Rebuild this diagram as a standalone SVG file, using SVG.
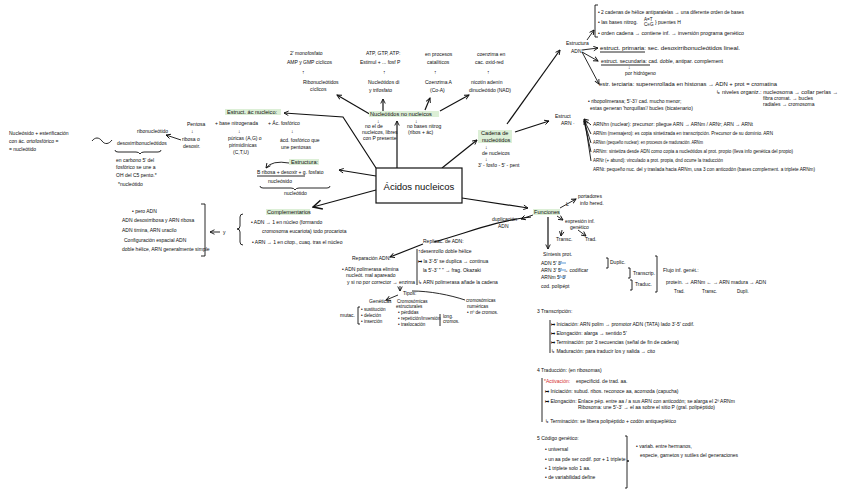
<svg xmlns="http://www.w3.org/2000/svg" width="848" height="494" viewBox="0 0 848 494">
<defs>
<style>
.t{font-family:"Liberation Sans",Arial,sans-serif;font-size:5px;fill:#0d0d0d}
.s{font-size:4.6px}
.hd{font-size:5.6px}
.hl{fill:#dcefd6}
.c{stroke:#111;stroke-width:1.2;fill:none}
.b{stroke:#111;stroke-width:0.9;fill:none}
.red{fill:#d42a2a}
.blu{stroke:#5a9bd8;stroke-width:1}
</style>
<marker id="a" viewBox="0 0 8 8" refX="7" refY="4" markerWidth="6" markerHeight="6" orient="auto" markerUnits="userSpaceOnUse"><path d="M1,1 L7,4 L1,7" fill="none" stroke="#111" stroke-width="1.2"/></marker>
<marker id="A" viewBox="0 0 8 8" refX="7" refY="4" markerWidth="12" markerHeight="12" orient="auto" markerUnits="userSpaceOnUse"><path d="M1,1 L7,4 L1,7" fill="none" stroke="#111" stroke-width="1"/></marker>
</defs>
<rect width="848" height="494" fill="#ffffff"/>

<g id="connectors">
<polyline class="c" points="376,168 343,117 284,113" marker-end="url(#a)"/>
<line class="c" x1="397" y1="168" x2="397" y2="121" marker-end="url(#a)"/>
<line class="c" x1="376" y1="176" x2="339" y2="170" marker-end="url(#a)"/>
<line class="c" x1="376" y1="190" x2="313" y2="207" marker-end="url(#A)"/>
<line class="c" x1="442" y1="168" x2="477" y2="140" marker-end="url(#a)"/>
<line class="c" x1="462" y1="198" x2="528" y2="208" marker-end="url(#a)"/>
<line class="c" x1="373" y1="116" x2="337" y2="95" marker-end="url(#a)"/>
<line class="c" x1="383" y1="112" x2="383" y2="99" marker-end="url(#a)"/>
<line class="c" x1="425" y1="110" x2="430" y2="98" marker-end="url(#a)"/>
<line class="c" x1="440" y1="111" x2="469" y2="95" marker-end="url(#a)"/>
<line class="c" x1="507" y1="124" x2="560" y2="50" marker-end="url(#a)"/>
<line class="c" x1="515" y1="132" x2="549" y2="121" marker-end="url(#a)"/>
<line class="b" x1="587" y1="40" x2="594" y2="30" marker-end="url(#a)"/>
<line class="b" x1="582" y1="50" x2="598" y2="48" marker-end="url(#a)"/>
<line class="b" x1="582" y1="52" x2="598" y2="61" marker-end="url(#a)"/>
<line class="b" x1="582" y1="52" x2="599" y2="84" marker-end="url(#a)"/>
<line class="b" x1="591" y1="125" x2="584" y2="119" marker-end="url(#a)"/>
<line class="b" x1="591" y1="134" x2="584" y2="120" marker-end="url(#a)"/>
<line class="b" x1="591" y1="143" x2="584" y2="121"/>
<line class="b" x1="591" y1="152" x2="584" y2="121"/>
<line class="b" x1="591" y1="161" x2="585" y2="122"/>
<line class="b" x1="560" y1="208" x2="576" y2="199" marker-end="url(#a)"/>
<line class="b" x1="533" y1="215" x2="521" y2="219" marker-end="url(#a)"/>
<line class="b" x1="557" y1="216" x2="563" y2="220" marker-end="url(#a)"/>
<line class="b" x1="562" y1="230" x2="561" y2="236" marker-end="url(#a)"/>
<line class="b" x1="578" y1="230" x2="586" y2="236" marker-end="url(#a)"/>
<line class="c" x1="548" y1="217" x2="548" y2="249" marker-end="url(#a)"/>
<path class="c" d="M531,217 C495,221 470,232 434,242"/>
<line class="c" x1="423" y1="244" x2="390" y2="257" marker-end="url(#a)"/>
<line class="b" x1="400" y1="286" x2="400" y2="291" marker-end="url(#a)"/>
<line class="b" x1="398" y1="295" x2="386" y2="300" marker-end="url(#a)"/>
<path class="b" d="M412,291 C430,291 450,295 465,300"/>
<path class="b" d="M92,141 c3,-4 7,-4 10,0 s7,3 10,-1"/>
<line class="b" x1="181" y1="140" x2="166" y2="135" marker-end="url(#a)"/>
<line class="b" x1="220" y1="232" x2="210" y2="232" marker-end="url(#a)"/>
<path class="b" d="M289,163 Q272,160 266,168" marker-end="url(#a)"/>
</g>

<g id="central">
<rect x="376" y="168" width="86" height="35" fill="#ffffff" stroke="#111" stroke-width="1.2"/>
<text class="t" x="419" y="190" text-anchor="middle" style="font-size:9.5px">Ácidos nucleicos</text>
</g>

<g id="nucleosido">
<text class="t" x="9" y="135">Nucleósido + esterificación</text>
<text class="t" x="9" y="143">con ác. ortofosfórico =</text>
<text class="t" x="9" y="151">= nucleótido</text>
</g>

<g id="ribonucleotido">
<text class="t" x="137" y="133">ribonucleótido</text>
<text class="t" x="117" y="145">desoxirribonucleótidos</text>
<path class="b" d="M115,150 q0,2 3,2 h18 q3,0 4,2 q1,-2 4,-2 h14 q3,0 3,-2"/>
<text class="t" x="116" y="162">en carbono 5' del</text>
<text class="t" x="116" y="169">fosfórico se une a</text>
<text class="t" x="116" y="177">OH del C5 pento.*</text>
<text class="t" x="118" y="186">*nucleótido</text>
</g>

<g id="pentosa">
<text class="t" x="187" y="126">Pentosa</text>
<text class="t" x="191" y="133">↓</text>
<text class="t" x="182" y="141">ribosa o</text>
<text class="t" x="183" y="148">desoxir.</text>
</g>

<g id="componentes">
<text class="t" x="215" y="125">+ base nitrogenada</text>
<text class="t" x="268" y="125">+ Ác. fosfórico</text>
<text class="t" x="238" y="133">↓</text>
<text class="t" x="228" y="140">púricas (A,G) o</text>
<text class="t" x="229" y="147">pirimidínicas</text>
<text class="t" x="233" y="154">(C,T,U)</text>
<text class="t" x="291" y="133">↓</text>
<text class="t" x="280" y="142">ácd. fosfórico que</text>
<text class="t" x="281" y="149">une pentosas</text>
</g>

<g id="estruct-acido">
<rect class="hl" x="225" y="109" width="56" height="6"/>
<text class="t hd" x="227" y="114">Estruct. ác nucleico:</text>
</g>

<g id="estructura">
<rect class="hl" x="289" y="159" width="30" height="6"/>
<text class="t hd" x="291" y="164">Estructura:</text>
<text class="t" x="257" y="174">B ribosa + desoxir + g. fosfato</text>
<line class="b" x1="257" y1="176" x2="305" y2="176"/>
<text class="t" x="268" y="183">nucleósido</text>
<path class="b" d="M260,186 q0,2 3,2 h28 q3,0 4,2 q1,-2 4,-2 h28 q3,0 3,-2"/>
<text class="t" x="284" y="195">nucleótido</text>
</g>

<g id="cicl">
<text class="t" x="290" y="55">2' monofosfato</text>
<text class="t" x="287" y="64">AMP y GMP cíclicos</text>
<text class="t" x="302" y="74">↑</text>
<text class="t" x="303" y="84">Ribonucleótidos</text>
<text class="t" x="310" y="91">cíclicos</text>
</g>

<g id="ditri">
<text class="t" x="366" y="55">ATP, GTP, ATP:</text>
<text class="t" x="360" y="64">Estimul + ... fosf P</text>
<text class="t" x="383" y="74">↑</text>
<text class="t" x="368" y="84">Nucleótidos di</text>
<text class="t" x="369" y="92">y trifosfato</text>
</g>

<g id="no-nucleicos">
<rect class="hl" x="369" y="111" width="70" height="6"/>
<text class="t hd" x="370" y="116">Nucleótidos no nucleicos</text>
<text class="t" x="377" y="123">↓</text>
<text class="t" x="365" y="128">no el de</text>
<text class="t" x="362" y="134">nucleicos, libres</text>
<text class="t" x="363" y="140">con P presente</text>
<text class="t" x="415" y="123">↓</text>
<text class="t" x="407" y="128">no bases nitrog</text>
<text class="t" x="408" y="134">(ribos + ác)</text>
</g>

<g id="coenzima">
<text class="t" x="425" y="56">en procesos</text>
<text class="t" x="427" y="64">catalíticos</text>
<text class="t" x="434" y="74">↑</text>
<text class="t" x="425" y="84">Coenzima A</text>
<text class="t" x="430" y="92">(Co-A)</text>
</g>

<g id="nad">
<text class="t" x="477" y="56">coenzima en</text>
<text class="t" x="475" y="64">cac. oxid-red</text>
<text class="t" x="487" y="74">↑</text>
<text class="t" x="471" y="84">nicotín adenín</text>
<text class="t" x="469" y="92">dinucleótido (NAD)</text>
</g>

<g id="cadena">
<rect class="hl" x="478" y="130" width="34" height="13"/>
<text class="t hd" x="481" y="135">Cadena de</text>
<text class="t hd" x="482" y="142">nucleótidos</text>
<text class="t" x="485" y="149">↓</text>
<text class="t" x="482" y="155">de nucleicos</text>
<text class="t" x="485" y="161">↓</text>
<text class="t" x="478" y="167">3' - fosfo - 5' - pent</text>
</g>

<g id="adn">
<text class="t" x="566" y="45">Estructura</text>
<text class="t" x="571" y="53">ADN :</text>
<path class="b" d="M598,5 h-3 v32 h3"/>
<text class="t" x="598" y="14" textLength="146" lengthAdjust="spacingAndGlyphs">• 2 cadenas de hélice antiparalelas → una diferente orden de bases</text>
<text class="t" x="598" y="24">• las bases nitrog.</text>
<text class="t s" x="644" y="21">A=T</text>
<text class="t s" x="644" y="26">C≡G</text>
<text class="t" x="655" y="24">} puentes H</text>
<text class="t" x="598" y="35" textLength="146" lengthAdjust="spacingAndGlyphs">• orden cadena → contiene inf. → inversión programa genético</text>
<text class="t" x="600" y="50" textLength="140" lengthAdjust="spacingAndGlyphs">estruct. primaria: sec. desoxirribonucleótidos lineal.</text>
<line class="b" x1="600" y1="52" x2="645" y2="52"/>
<text class="t" x="601" y="63" textLength="122" lengthAdjust="spacingAndGlyphs">estruct. secundaria: cad. doble, antipar. complement</text>
<line class="b" x1="601" y1="65" x2="650" y2="65"/>
<text class="t" x="628" y="69">↓</text>
<text class="t" x="625" y="75">por hidrógeno</text>
<text class="t" x="599" y="86" textLength="178" lengthAdjust="spacingAndGlyphs">estr. terciaria: superenrollada en histonas → ADN + prot = cromatina</text>
<text class="t" x="716" y="94" textLength="122" lengthAdjust="spacingAndGlyphs">↳ niveles organiz.: nucleosoma → collar perlas →</text>
<text class="t" x="763" y="100">fibra cromat. → bucles</text>
<text class="t" x="763" y="106">radiales → cromosoma</text>
</g>

<g id="arn">
<text class="t" x="588" y="103">• ribopolimerasa; 5'-3'/ cad. mucho menor;</text>
<text class="t" x="590" y="110">estas generan 'horquillas'/ bucles (bicatenario)</text>
<text class="t" x="555" y="118">Estruct</text>
<text class="t" x="561" y="125">ARN ·</text>
<text class="t" x="593" y="126" textLength="160" lengthAdjust="spacingAndGlyphs">ARNhn (nuclear): precursor: pliegue ARN → ARNm / ARNr; ARN → ARNt</text>
<text class="t" x="593" y="135" textLength="180" lengthAdjust="spacingAndGlyphs">ARNm (mensajero): es copia sintetizada en transcripción. Precursor de su dominio. ARN</text>
<text class="t" x="593" y="144" textLength="110" lengthAdjust="spacingAndGlyphs">ARNsn (pequeño nuclear): en procesos de maduración. ARNm</text>
<text class="t" x="593" y="153" textLength="200" lengthAdjust="spacingAndGlyphs">ARNm: sintetiza desde ADN como copia a nucleótidos al prot. propio (lleva info genética del propio)</text>
<text class="t" x="593" y="162" textLength="130" lengthAdjust="spacingAndGlyphs">ARNr (+ abund): vinculado a prot. propia, dnd ocurre la traducción</text>
<text class="t" x="593" y="171" textLength="222" lengthAdjust="spacingAndGlyphs">ARNt: pequeño nuc. del y traslada hacia ARNm, usa 3 con anticodón (bases complement. a triplete ARNm)</text>
</g>

<g id="pero-dna">
<text class="t" x="132" y="213">• pero ADN</text>
<text class="t" x="122" y="222">ADN desoxirribosa y ARN ribosa</text>
<text class="t" x="122" y="232">ADN timina, ARN uracilo</text>
<text class="t" x="124" y="242">Configuración espacial ADN</text>
<text class="t" x="122" y="251">doble hélice, ARN generalmente simple</text>
<path class="b" d="M201,204 h4 v52 h-4"/>
<text class="t" x="223" y="234">y</text>
</g>

<g id="complementarios">
<rect class="hl" x="266" y="209" width="44" height="6"/>
<text class="t hd" x="267" y="214">Complementarios</text>
<path class="b" d="M243,214 q-3,0 -3,3 v9 q0,3 -3,3 q3,0 3,3 v10 q0,3 3,3"/>
<text class="t" x="251" y="224">• ADN → 1 en núcleo (formando</text>
<text class="t" x="262" y="233">cromosoma eucariota) todo procariota</text>
<text class="t" x="252" y="244">• ARN → 1 en citop., cuaq. tras el núcleo</text>
</g>

<g id="funciones">
<rect class="hl" x="533" y="209" width="27" height="6"/>
<text class="t hd" x="534" y="214">Funciones</text>
<text class="t" x="566" y="206">L</text>
<text class="t" x="578" y="198">portadores</text>
<text class="t" x="580" y="205">info hered.</text>
<text class="t" x="492" y="221">duplicación</text>
<text class="t" x="498" y="228">ADN</text>
<text class="t" x="565" y="223">expresión inf.</text>
<text class="t" x="570" y="229">genético</text>
<text class="t" x="556" y="241">Transc.</text>
<text class="t" x="585" y="241">Trad.</text>
</g>

<g id="replicacion">
<text class="t" x="423" y="243">Replicac. de ADN:</text>
<path class="b" d="M417,249 v36"/>
<text class="t" x="418" y="253">↑desenrollo doble hélice</text>
<text class="t" x="418" y="263">↦ la 3'-5' se duplica → continua</text>
<text class="t" x="423" y="272">la 5'-3'   "      "   → frag. Okazaki</text>
<text class="t" x="418" y="284">↳ ARN polimerasa añade la cadena</text>
</g>

<g id="reparacion">
<text class="t" x="352" y="260">Reparación ADN:</text>
<text class="t" x="342" y="271">• ADN polimerasa elimina</text>
<text class="t" x="346" y="277">nucleót. mal apareado</text>
<text class="t" x="347" y="284">y si no por corrector → enzima</text>
<text class="t" x="403" y="295">Tipos:</text>
<text class="t" x="369" y="303">Genéticas</text>
<text class="t" x="340" y="317">mutac.</text>
<path class="b" d="M360,307 h-2 v17 h2"/>
<text class="t s" x="361" y="311">• sustitución</text>
<text class="t s" x="361" y="317">• deleción</text>
<text class="t s" x="361" y="323">• inserción</text>
<text class="t s" x="397" y="303">Cromosómicas</text>
<text class="t s" x="396" y="308">estructurales</text>
<text class="t s" x="398" y="314">• pérdidas</text>
<text class="t s" x="398" y="320">• repetición/inversión</text>
<text class="t s" x="398" y="326">• traslocación</text>
<path class="b" d="M440,314 v12"/>
<text class="t s" x="443" y="318">long.</text>
<text class="t s" x="443" y="323">cromos.</text>
<text class="t s" x="466" y="302">cromosómicas</text>
<text class="t s" x="467" y="308">numéricas</text>
<text class="t s" x="467" y="314">• nº de cromos.</text>
</g>

<g id="sintesis">
<text class="t" x="543" y="256">Síntesis prot.</text>
<text class="t" x="541" y="265">ADN   5'        3'</text>
<line class="blu" x1="558" y1="263" x2="566" y2="263"/>
<text class="t" x="541" y="272">ARN   3'        5'   → codificar</text>
<line class="blu" x1="558" y1="270" x2="566" y2="270"/>
<text class="t" x="541" y="279">ARNm 5'        3'</text>
<line class="blu" x1="558" y1="277" x2="566" y2="277"/>
<text class="t" x="541" y="288">cod. polipépt</text>
<path class="b" d="M606,258 h2 v10 h-2"/>
<text class="t" x="610" y="264">Duplic.</text>
<path class="b" d="M628,268 h2 v10 h-2"/>
<text class="t" x="633" y="275">Transcrip.</text>
<path class="b" d="M630,280 h2 v10 h-2"/>
<text class="t" x="635" y="286">Traduc.</text>
<path class="b" d="M655,256 h2 v36 h-2"/>
<text class="t" x="663" y="272">Flujo inf. genét.:</text>
<text class="t" x="666" y="284">proteín. →  ARNm ←  →  ARN madura  →  ADN</text>
<text class="t s" x="674" y="293">Trad.</text>
<text class="t s" x="702" y="293">Transc.</text>
<text class="t s" x="737" y="293">Dupli.</text>
</g>

<g id="transcripcion">
<text class="t" x="537" y="313">3  Transcripción:</text>
<path class="b" d="M550,320 v33"/>
<text class="t" x="551" y="326">↦ Iniciación: ARN polim → promotor ADN (TATA) lado 3'-5' codif.</text>
<text class="t" x="551" y="335">↦ Elongación: alarga → sentido 5'</text>
<text class="t" x="551" y="344">↦ Terminación: por 3 secuencias (señal de fin de cadena)</text>
<text class="t" x="551" y="353">↳ Maduración: para traducir los y salida → cito</text>
</g>

<g id="traduccion">
<text class="t" x="537" y="372">4  Traducción: (en ribosomas)</text>
<path class="b" d="M542,378 v44"/>
<text class="t red" x="544" y="383">*Activación:</text>
<text class="t" x="576" y="383">especificid. de trad. aa.</text>
<text class="t" x="545" y="393">↦ Iniciación: subud. ribos. reconoce aa, acomoda (capucha)</text>
<text class="t" x="545" y="403">↦ Elongación: Enlace pép. entre aa / a sus ARN con anticodón; se alarga el 2º ARNm</text>
<text class="t" x="578" y="409">Ribosoma: une 5'-3' → el aa sobre el sitio P (gral. polipéptido)</text>
<text class="t" x="545" y="423">↳ Terminación: se libera polipéptido + codón antiqueplético</text>
</g>

<g id="codigo">
<text class="t" x="537" y="440">5  Código genético:</text>
<text class="t" x="545" y="451">• universal</text>
<text class="t" x="545" y="461">• un aa pde ser codif. por + 1 triplete</text>
<text class="t" x="545" y="470">• 1 triplete solo 1 aa.</text>
<text class="t" x="545" y="479">• de variabilidad define</text>
<path class="b" d="M625,436 h2 v25 h2 h-2 v27 h-2"/>
<text class="t" x="636" y="448">• variab. entre hermanos,</text>
<text class="t" x="640" y="457">especie, gametos y sutiles del generaciones</text>
</g>
</svg>
